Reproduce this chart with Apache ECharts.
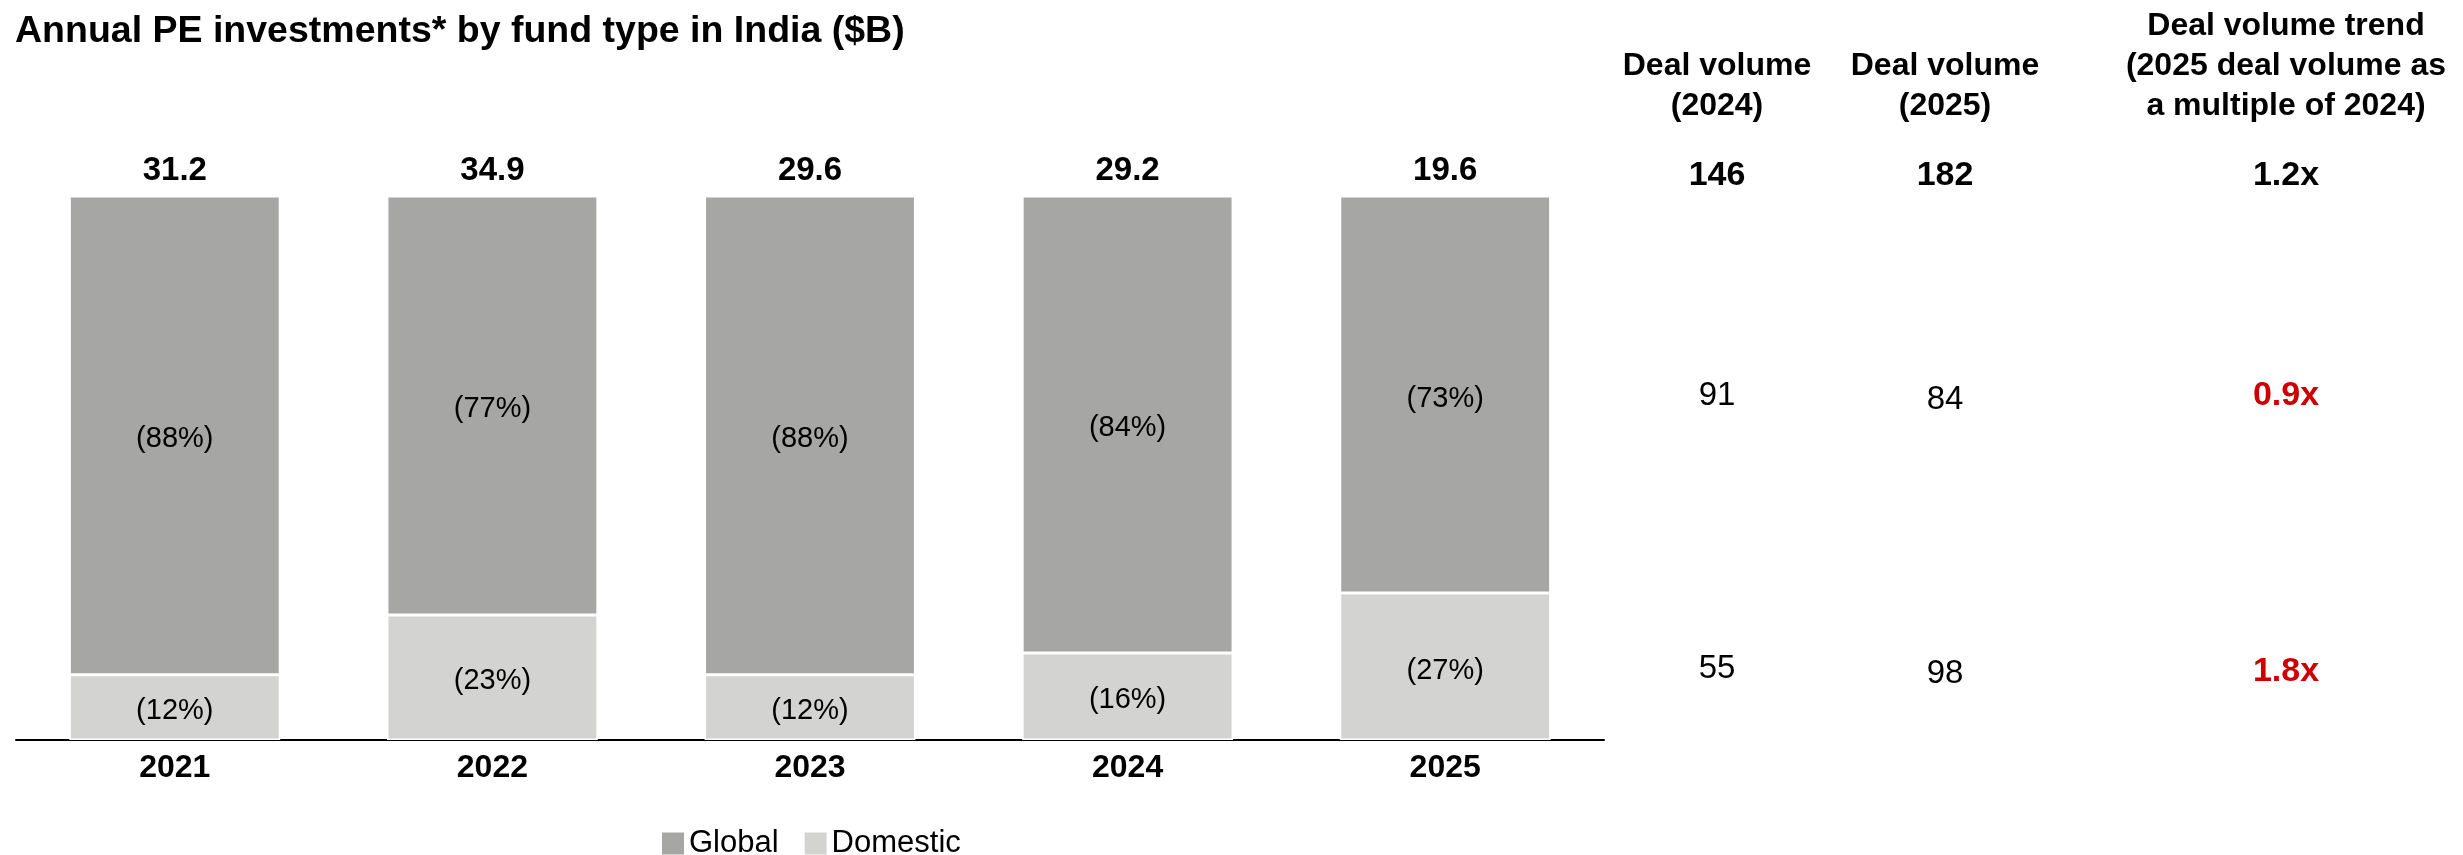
<!DOCTYPE html>
<html>
<head>
<meta charset="utf-8">
<script src="https://cdn.jsdelivr.net/npm/echarts@6/dist/echarts.min.js"></script>
<style>
  html, body { margin: 0; padding: 0; background: #ffffff; }
  #chart { width: 2463px; height: 855px; }
</style>
</head>
<body>
<div id="chart"></div>
<script>
// Annual PE investments by fund type in India
const years = ['2021', '2022', '2023', '2024', '2025'];
const globalShare = [88, 77, 88, 84, 73];     // % of annual total
const domesticShare = [12, 23, 12, 16, 27];   // % of annual total
const totals = [31.2, 34.9, 29.6, 29.2, 19.6]; // $B

// Deal volume table (rows: total, global, domestic)
const tableHeaders = [
  ['Deal volume', '(2024)'],
  ['Deal volume', '(2025)'],
  ['Deal volume trend', '(2025 deal volume as', 'a multiple of 2024)']
];
const volume2024 = [146, 91, 55];
const volume2025 = [182, 84, 98];
const volumeTrend = ['1.2x', '0.9x', '1.8x'];
const trendHighlight = [false, true, true];

const FONT = '"Liberation Sans", Arial, sans-serif';
const chart = echarts.init(document.getElementById('chart'), null, { renderer: 'canvas' });

// table layout
const colX = [1717, 1945, 2286];
const headerBottom = 122;
const headerLineH = 40;
const cellY = [
  [176, 176, 176],
  [396, 400, 396],
  [669, 674, 672]
];

const graphics = [];
tableHeaders.forEach((lines, c) => {
  lines.forEach((line, i) => {
    graphics.push({
      type: 'text',
      style: {
        text: line,
        x: colX[c],
        y: headerBottom - (lines.length - 1 - i) * headerLineH,
        align: 'center',
        verticalAlign: 'bottom',
        font: 'bold 32px ' + FONT,
        fill: '#000'
      }
    });
  });
});
for (let r = 0; r < volume2024.length; r++) {
  const cells = [String(volume2024[r]), String(volume2025[r]), volumeTrend[r]];
  cells.forEach((txt, c) => {
    const isTrend = c === 2;
    const bold = r === 0 || isTrend;
    graphics.push({
      type: 'text',
      style: {
        text: txt,
        x: colX[c],
        y: cellY[r][c],
        align: 'center',
        verticalAlign: 'middle',
        font: (bold ? 'bold 34px ' : '33px ') + FONT,
        fill: isTrend && trendHighlight[r] ? '#cc0000' : '#000'
      }
    });
  });
}

const shareLabel = {
  show: true,
  position: 'inside',
  offset: [0, 4],
  formatter: p => '(' + p.value + '%)',
  fontSize: 29,
  color: '#000',
  fontFamily: FONT
};

const option = {
  animation: false,
  backgroundColor: '#ffffff',
  textStyle: { fontFamily: FONT },
  title: {
    text: 'Annual PE investments* by fund type in India ($B)',
    left: 10,
    top: 8,
    textStyle: { fontSize: 37.5, fontWeight: 'bold', color: '#000', fontFamily: FONT }
  },
  legend: {
    left: 657,
    top: 823,
    itemWidth: 22,
    itemHeight: 22,
    itemGap: 26,
    icon: 'rect',
    itemStyle: { borderWidth: 0 },
    textStyle: { fontSize: 31, color: '#000', fontFamily: FONT },
    data: ['Global', 'Domestic']
  },
  grid: { left: 16, right: 2463 - 1604, top: 196, bottom: 855 - 740, containLabel: false },
  xAxis: {
    type: 'category',
    data: years,
    axisLine: { lineStyle: { color: '#000', width: 2 } },
    axisTick: { show: false },
    axisLabel: { fontSize: 32, fontWeight: 'bold', color: '#000', margin: 12, fontFamily: FONT }
  },
  yAxis: {
    type: 'value',
    min: 0,
    max: 100,
    show: false,
    splitLine: { show: false }
  },
  series: [
    {
      name: 'Domestic',
      type: 'bar',
      stack: 'share',
      barWidth: '66.4%',
      data: domesticShare,
      itemStyle: { color: '#d3d3d2', borderColor: '#ffffff', borderWidth: 1.5 },
      label: shareLabel
    },
    {
      name: 'Global',
      type: 'bar',
      stack: 'share',
      barWidth: '66.4%',
      data: globalShare,
      itemStyle: { color: '#a6a6a5', borderColor: '#ffffff', borderWidth: 1.5 },
      label: shareLabel
    },
    {
      // totals written above each stacked bar
      name: 'Total',
      type: 'bar',
      stack: 'share',
      barWidth: '66.4%',
      data: totals.map(() => 0),
      itemStyle: { color: 'transparent' },
      silent: true,
      label: {
        show: true,
        position: 'top',
        distance: 9,
        formatter: p => totals[p.dataIndex].toFixed(1),
        fontSize: 33,
        fontWeight: 'bold',
        color: '#000',
        fontFamily: FONT
      }
    }
  ],
  graphic: graphics
};
chart.setOption(option);
</script>
</body>
</html>
